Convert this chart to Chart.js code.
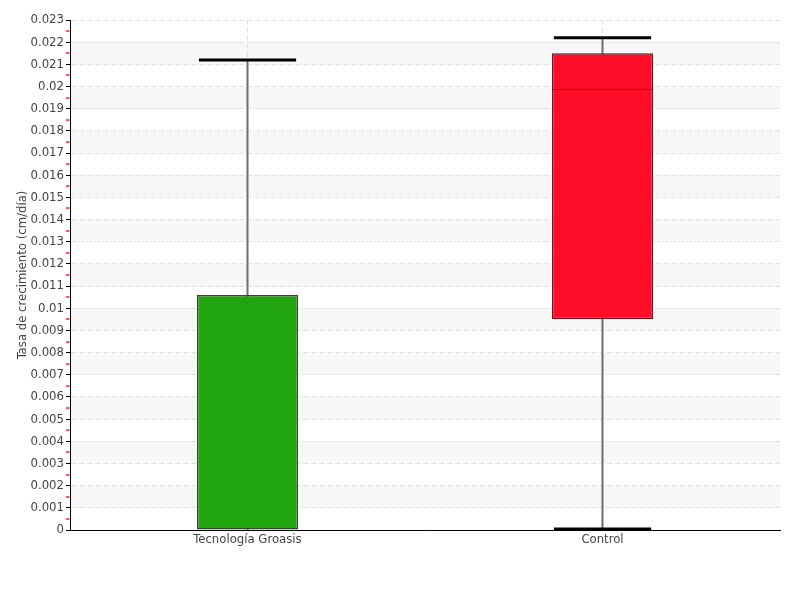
<!DOCTYPE html>
<html>
<head>
<meta charset="utf-8">
<script src="https://cdn.jsdelivr.net/npm/chart.js@4"></script>
<style>
  html, body { margin: 0; padding: 0; background: #fff; }
  #wrap { width: 800px; height: 600px; }
</style>
</head>
<body>
<div id="wrap"><canvas id="boxChart" width="800" height="600"></canvas></div>
<script>
// box plot values
const categories = ['Tecnología Groasis', 'Control'];
const minValues = [0, 0.00005];
const q1Values = [0, 0.0095];
const medianValues = [0, 0.0199];
const q3Values = [0.0106, 0.0215];
const maxValues = [0.0212, 0.0222];
const boxColors = ['#21a50f', '#ff0c29'];
const boxBorders = ['#2f4a2b', '#6e1420'];

const FONT = '"Liberation Sans Narrow", "DejaVu Sans Condensed", sans-serif';

// alternating grey bands behind the grid
const bandsPlugin = {
  id: 'bands',
  beforeDraw(chart) {
    const { ctx, chartArea, scales: { y } } = chart;
    ctx.save();
    ctx.fillStyle = '#f7f7f7';
    const ticks = y.ticks;
    for (let i = 1; i < ticks.length - 1; i += 2) {
      const top = y.getPixelForValue(ticks[i + 1].value);
      const bottom = y.getPixelForValue(ticks[i].value);
      ctx.fillRect(chartArea.left, top, chartArea.right - chartArea.left, bottom - top);
    }
    ctx.restore();
  }
};

// whiskers and caps behind the boxes, median on top
const whiskerPlugin = {
  id: 'whiskers',
  beforeDatasetsDraw(chart) {
    const { ctx, scales: { y } } = chart;
    const meta = chart.getDatasetMeta(0);
    ctx.save();
    meta.data.forEach((bar, i) => {
      const x = bar.x;
      const half = bar.width / 2 - 2;
      ctx.strokeStyle = '#6e6e6e';
      ctx.lineWidth = 2;
      ctx.beginPath();
      ctx.moveTo(x, y.getPixelForValue(minValues[i]));
      ctx.lineTo(x, y.getPixelForValue(maxValues[i]));
      ctx.stroke();
      ctx.strokeStyle = '#000';
      ctx.lineWidth = 3;
      [minValues[i], maxValues[i]].forEach(v => {
        if (v === q1Values[i]) return;
        const py = y.getPixelForValue(v);
        ctx.beginPath();
        ctx.moveTo(x - half, py);
        ctx.lineTo(x + half, py);
        ctx.stroke();
      });
    });
    ctx.restore();
  },
  afterDatasetsDraw(chart) {
    const { ctx, scales: { y } } = chart;
    const meta = chart.getDatasetMeta(0);
    ctx.save();
    meta.data.forEach((bar, i) => {
      if (medianValues[i] <= q1Values[i]) return;
      const py = Math.round(y.getPixelForValue(medianValues[i])) + 0.5;
      ctx.strokeStyle = boxBorders[i];
      ctx.lineWidth = 1;
      ctx.beginPath();
      ctx.moveTo(bar.x - bar.width / 2, py);
      ctx.lineTo(bar.x + bar.width / 2, py);
      ctx.stroke();
    });
    ctx.restore();
  },
  afterDraw(chart) {
    // red minor ticks on the value axis
    const { ctx, chartArea, scales: { y } } = chart;
    const ticks = y.ticks;
    ctx.save();
    ctx.strokeStyle = '#ff2020';
    ctx.lineWidth = 1.5;
    for (let i = 0; i < ticks.length - 1; i++) {
      const py = Math.round((y.getPixelForValue(ticks[i].value) + y.getPixelForValue(ticks[i + 1].value)) / 2);
      ctx.beginPath();
      ctx.moveTo(chartArea.left - 4, py);
      ctx.lineTo(chartArea.left - 0.5, py);
      ctx.stroke();
    }
    ctx.restore();
  }
};

const ctx = document.getElementById('boxChart').getContext('2d');
new Chart(ctx, {
  type: 'bar',
  data: {
    labels: categories,
    datasets: [{
      data: categories.map((c, i) => [q1Values[i], q3Values[i]]),
      backgroundColor: boxColors,
      borderColor: boxBorders,
      borderWidth: 1.5,
      borderSkipped: false,
      barPercentage: 0.285,
      categoryPercentage: 1
    }]
  },
  options: {
    responsive: false,
    animation: false,
    layout: { padding: { top: 20, right: 20, left: 0, bottom: 0 } },
    plugins: {
      legend: { display: false },
      tooltip: { enabled: false }
    },
    scales: {
      x: {
        afterFit: (s) => { s.height = 70; },
        grid: {
          offset: false,
          color: '#e0e0e0',
          drawTicks: false
        },
        border: { color: '#000', width: 1, dash: [5, 3] },
        ticks: {
          color: '#444',
          padding: 2,
          font: { family: FONT, size: 13 }
        }
      },
      y: {
        min: 0,
        max: 0.023,
        afterFit: (s) => { s.width = 70; },
        grid: {
          color: '#e0e0e0',
          tickColor: '#000',
          tickLength: 4,
          tickBorderDash: []
        },
        border: { color: '#000', width: 1, dash: [5, 3] },
        ticks: {
          stepSize: 0.001,
          color: '#444',
          padding: 2,
          font: { family: FONT, size: 13 },
          callback: (v) => String(Number(v.toFixed(3)))
        },
        title: {
          display: true,
          text: 'Tasa de crecimiento (cm/día)',
          color: '#444',
          padding: { top: 15, bottom: 0 },
          font: { family: FONT, size: 13 }
        }
      }
    }
  },
  plugins: [bandsPlugin, whiskerPlugin]
});
</script>
</body>
</html>
